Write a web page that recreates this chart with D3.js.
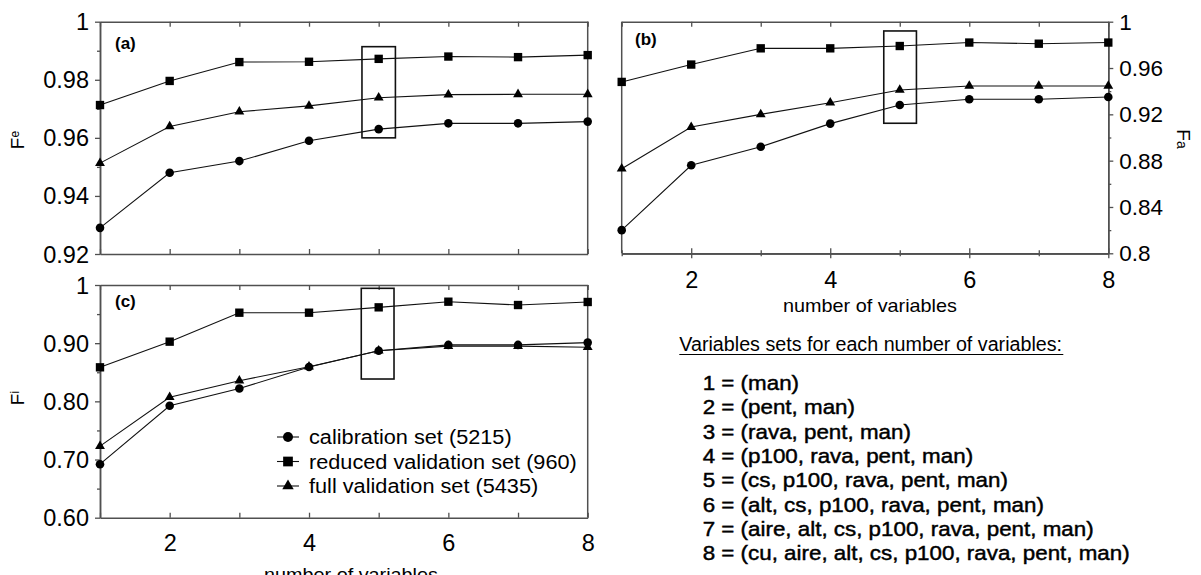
<!DOCTYPE html>
<html><head><meta charset="utf-8">
<script src="https://cdn.jsdelivr.net/npm/d3@7"></script>
<style>
body{margin:0;background:#fff}
svg{display:block}
text{font-family:"Liberation Sans",Arial,sans-serif;fill:#000}
</style>
</head><body><svg id="c" width="1201" height="575"></svg>
<script>
// ---------- data ----------
const xVals = [1, 2, 3, 4, 5, 6, 7, 8];

const feCalib   = [0.929, 0.948, 0.952, 0.959, 0.963, 0.965, 0.965, 0.9656];
const feReduced = [0.9713, 0.9796, 0.9861, 0.9862, 0.9872, 0.988, 0.9878, 0.9885];
const feFull    = [0.9513, 0.9639, 0.969, 0.971, 0.9738, 0.9749, 0.975, 0.975];

const faCalib   = [0.820, 0.876, 0.892, 0.912, 0.928, 0.933, 0.933, 0.935];
const faReduced = [0.948, 0.963, 0.977, 0.977, 0.979, 0.982, 0.981, 0.982];
const faFull    = [0.873, 0.909, 0.920, 0.930, 0.941, 0.9445, 0.9445, 0.9445];

const fiCalib   = [0.692, 0.7925, 0.822, 0.859, 0.887, 0.897, 0.897, 0.901];
const fiReduced = [0.8585, 0.9026, 0.9524, 0.9524, 0.9616, 0.9713, 0.9656, 0.9708];
const fiFull    = [0.723, 0.807, 0.8355, 0.8596, 0.887, 0.895, 0.895, 0.893];

const feTicks = [0.92, 0.94, 0.96, 0.98, 1];
const feTickLabels = ["0.92", "0.94", "0.96", "0.98", "1"];
const feMinor = [0.93, 0.95, 0.97, 0.99];

const faTicks = [0.8, 0.84, 0.88, 0.92, 0.96, 1];
const faTickLabels = ["0.8", "0.84", "0.88", "0.92", "0.96", "1"];
const faMinor = [0.82, 0.86, 0.90, 0.94, 0.98];

const fiTicks = [0.6, 0.7, 0.8, 0.9, 1];
const fiTickLabels = ["0.60", "0.70", "0.80", "0.90", "1"];
const fiMinor = [0.65, 0.75, 0.85, 0.95];

const xLabelTicks = [2, 4, 6, 8];
const xMinorTicks = [1, 3, 5, 7];

const seriesNames = ["calibration set (5215)", "reduced validation set (960)", "full validation set (5435)"];
const varSetsTitle = "Variables sets for each number of variables:";
const varSets = [
  "1 = (man)",
  "2 = (pent, man)",
  "3 = (rava, pent, man)",
  "4 = (p100, rava, pent, man)",
  "5 = (cs, p100, rava, pent, man)",
  "6 = (alt, cs, p100, rava, pent, man)",
  "7 = (aire, alt, cs, p100, rava, pent, man)",
  "8 = (cu, aire, alt, cs, p100, rava, pent, man)"
];
const xTitle = "number of variables";

// ---------- drawing ----------
const svg = d3.select("#c");
const AX = "#505050";
const symbols = [d3.symbolCircle, d3.symbolSquare, d3.symbolTriangle];
const symSizes = [58, 70, 42];

// stretch a text horizontally by a factor (the reference figure is slightly wide-set)
function stretch(sel, factor) {
  sel.each(function () {
    const w = this.getComputedTextLength();
    d3.select(this).attr("textLength", w * factor).attr("lengthAdjust", "spacingAndGlyphs");
  });
}

const panels = [
  {x0:100, x1:587.7, y0:21.7, y1:254, dom:[0.92,1], series:[feCalib,feReduced,feFull],
   major:feTicks, labels:feTickLabels, minor:feMinor, side:"left", bottom:"in", xlab:false,
   tag:"(a)", tagX:115, tagY:49, box:[4.76,5.24,0.96,0.9914],
   title:["F","e"], titleX:23.5, titleY:140},
  {x0:621.7, x1:1108.3, y0:21.7, y1:253.3, dom:[0.8,1], series:[faCalib,faReduced,faFull],
   major:faTicks, labels:faTickLabels, minor:faMinor, side:"right", bottom:"cross", xlab:true, xlabDy:26.5,
   tag:"(b)", tagX:635, tagY:45, box:[4.77,5.24,0.9123,0.992],
   title:["F","a"], titleX:1176.5, titleY:139, xTitleX:870, xTitleY:311.5},
  {x0:100, x1:587.7, y0:285, y1:517.7, dom:[0.6,1], series:[fiCalib,fiReduced,fiFull],
   major:fiTicks, labels:fiTickLabels, minor:fiMinor, side:"left", bottom:"in", xlab:true, xlabDy:25.3,
   tag:"(c)", tagX:115, tagY:306.5, box:[4.75,5.22,0.8384,0.9943],
   title:["F","i"], titleX:23.5, titleY:398, xTitleX:351, xTitleY:581}
];

function styleAxis(sel, fs){
  sel.selectAll(".domain").attr("stroke", AX).attr("stroke-width", 1.5);
  sel.selectAll(".tick line").attr("stroke", AX).attr("stroke-width", 1.3);
  sel.selectAll("text").attr("font-size", fs).attr("fill", "#000")
     .attr("font-family", '"Liberation Sans",Arial,sans-serif');
}

panels.forEach(p => {
  const x = d3.scaleLinear().domain([1, 8]).range([p.x0, p.x1]);
  const y = d3.scaleLinear().domain(p.dom).range([p.y1, p.y0]);
  const g = svg.append("g");

  // top border with inward ticks
  g.append("g").attr("transform", `translate(0,${p.y0})`)
    .call(d3.axisBottom(x).tickValues(xVals).tickSize(5).tickSizeOuter(0).tickFormat(""))
    .call(s => styleAxis(s, 0));

  // bottom border
  if (p.bottom === "in") {
    g.append("g").attr("transform", `translate(0,${p.y1})`)
      .call(d3.axisTop(x).tickValues(xVals).tickSize(5).tickSizeOuter(0).tickFormat(""))
      .call(s => styleAxis(s, 0));
  } else {
    [[d3.axisTop, xLabelTicks, 5], [d3.axisBottom, xLabelTicks, 5],
     [d3.axisTop, xMinorTicks, 3], [d3.axisBottom, xMinorTicks, 3]].forEach(([ax, tv, ts]) => {
      g.append("g").attr("transform", `translate(0,${p.y1})`)
        .call(ax(x).tickValues(tv).tickSize(ts).tickSizeOuter(0).tickFormat(""))
        .call(s => styleAxis(s, 0));
    });
  }
  if (p.xlab) {
    const xl = g.append("g").attr("transform", `translate(0,${p.y1})`)
      .call(d3.axisBottom(x).tickValues(xLabelTicks).tickSize(0).tickPadding(0).tickFormat(d3.format("d")))
      .call(s => styleAxis(s, 23.5));
    xl.select(".domain").remove();
    xl.selectAll("text").attr("dy", null).attr("y", p.xlabDy).attr("dominant-baseline", "central");
  }

  // y axes
  const yAxisMajor = (p.side === "left" ? d3.axisLeft(y) : d3.axisRight(y))
    .tickValues(p.major).tickSize(5).tickSizeOuter(0).tickPadding(6)
    .tickFormat((d, i) => p.labels[i]);
  const yAxisMinor = (p.side === "left" ? d3.axisLeft(y) : d3.axisRight(y))
    .tickValues(p.minor).tickSize(3).tickSizeOuter(0).tickFormat("");
  const yPos = p.side === "left" ? p.x0 : p.x1;
  const oPos = p.side === "left" ? p.x1 : p.x0;
  g.append("g").attr("transform", `translate(${yPos},0)`).call(yAxisMajor)
    .call(s => styleAxis(s, p.side === "left" ? 23.5 : 22.5))
    .call(s => s.selectAll("text").attr("dy", null).attr("dominant-baseline", "central"));
  g.append("g").attr("transform", `translate(${yPos},0)`).call(yAxisMinor).call(s => styleAxis(s, 0));
  g.append("line").attr("x1", oPos).attr("x2", oPos).attr("y1", y(p.dom[0])).attr("y2", y(p.dom[1]))
    .attr("stroke", AX).attr("stroke-width", 1.5);

  // highlight box
  g.append("rect")
    .attr("x", x(p.box[0])).attr("y", y(p.box[3]))
    .attr("width", x(p.box[1]) - x(p.box[0])).attr("height", y(p.box[2]) - y(p.box[3]))
    .attr("fill", "none").attr("stroke", "#111").attr("stroke-width", 1.6);

  // series
  const line = d3.line().x((d, i) => x(xVals[i])).y(d => y(d));
  p.series.forEach(s => {
    g.append("path").datum(s).attr("d", line).attr("fill", "none")
      .attr("stroke", "#111").attr("stroke-width", 1.1);
  });
  p.series.forEach((s, k) => {
    g.selectAll(null).data(s).enter().append("path")
      .attr("transform", (d, i) => `translate(${x(xVals[i])},${y(d)})`)
      .attr("d", d3.symbol().type(symbols[k]).size(symSizes[k]))
      .attr("fill", "#000");
  });

  // panel tag
  g.append("text").attr("x", p.tagX).attr("y", p.tagY).attr("font-size", 17)
    .attr("font-weight", "bold").text(p.tag);

  // y title
  const t = g.append("text")
    .attr("transform", `translate(${p.titleX},${p.titleY}) rotate(${p.side === "left" ? -90 : 90})`)
    .attr("text-anchor", "middle").attr("font-size", 19);
  t.append("tspan").text(p.title[0]);
  if (p.side === "left") {
    t.append("tspan").attr("font-size", 12).attr("dy", -5).text(p.title[1]);
  } else {
    t.append("tspan").attr("font-size", 14).attr("dy", 0).text(p.title[1]);
  }

  // x title
  if (p.xTitleX) {
    g.append("text").attr("x", p.xTitleX).attr("y", p.xTitleY).attr("text-anchor", "middle")
      .attr("font-size", 18.5).text(xTitle).call(s => stretch(s, 1.07));
  }

  // legend inside panel c
  if (p.tag === "(c)") {
    const lg = g.append("g");
    const rowsY = [437, 461.5, 486];
    seriesNames.forEach((name, k) => {
      lg.append("line").attr("x1", 277).attr("x2", 299).attr("y1", rowsY[k]).attr("y2", rowsY[k])
        .attr("stroke", "#111").attr("stroke-width", 1.1);
      lg.append("path").attr("transform", `translate(288,${rowsY[k]})`)
        .attr("d", d3.symbol().type(symbols[k]).size(symSizes[k] * 1.35)).attr("fill", "#000");
      lg.append("text").attr("x", 309).attr("y", rowsY[k]).attr("dominant-baseline", "central")
        .attr("font-size", 20).text(name).call(s => stretch(s, 1.085));
    });
  }
});

// variable sets block
const vb = svg.append("g");
const title = vb.append("text").attr("x", 679.3).attr("y", 343.5).attr("dominant-baseline", "central")
  .attr("font-size", 19.5).text(varSetsTitle);
stretch(title, 1.01);
const tw = 384;
vb.append("line").attr("x1", 679.3).attr("x2", 679.3 + tw).attr("y1", 354.5).attr("y2", 354.5)
  .attr("stroke", "#000").attr("stroke-width", 1.2);
const rows = vb.selectAll(null).data(varSets).enter().append("text")
  .attr("x", 702.7).attr("y", (d, i) => 382.7 + i * 24.28)
  .attr("dominant-baseline", "central").attr("font-size", 20.5)
  .attr("stroke", "#000").attr("stroke-width", 0.45)
  .text(d => d);
const longest = rows.nodes()[varSets.length - 1].getComputedTextLength();
stretch(rows, 427 / longest);
</script></body></html>
